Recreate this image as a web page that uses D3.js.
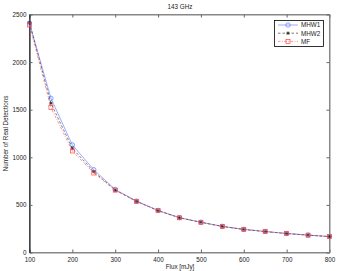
<!DOCTYPE html>
<html>
<head>
<meta charset="utf-8">
<script src="https://cdn.jsdelivr.net/npm/d3@7"></script>
<style>
  body { margin: 0; background: #fff; }
  svg { display: block; font-family: "Liberation Sans", Arial, sans-serif; }
</style>
</head>
<body>
<svg id="chart"></svg>
<script>
var flux = [100, 150, 200, 250, 300, 350, 400, 450, 500, 550, 600, 650, 700, 750, 800];
var mhw1 = [2410, 1620, 1130, 870, 662, 540, 442, 366, 318, 275, 243, 221, 200, 183, 168];
var mhw2 = [2415, 1568, 1095, 850, 655, 536, 440, 365, 317, 274, 242, 220, 199, 182, 167];
var mf = [2390, 1522, 1066, 835, 655, 536, 440, 365, 317, 274, 242, 220, 199, 182, 167];
var xTicks = [100, 200, 300, 400, 500, 600, 700, 800];
var yTicks = [0, 500, 1000, 1500, 2000, 2500];

var width = 338;
var height = 271;
var plotLeft = 29.5, plotRight = 329.5, plotTop = 14.5, plotBottom = 252.5;

var svg = d3.select('#chart').attr('width', width).attr('height', height);

var x = d3.scaleLinear().domain([100, 800]).range([plotLeft, plotRight]);
var y = d3.scaleLinear().domain([0, 2500]).range([plotBottom, plotTop]);

// box
svg.append('rect')
  .attr('x', plotLeft).attr('y', plotTop)
  .attr('width', plotRight - plotLeft).attr('height', plotBottom - plotTop)
  .attr('fill', 'none').attr('stroke', '#888').attr('stroke-width', 1);

// ticks, inward
var fmt = d3.format('d');
var xAxis = svg.append('g').attr('transform', 'translate(0,' + plotBottom + ')')
  .call(d3.axisBottom(x).tickValues(xTicks).tickFormat(fmt).tickSizeInner(-3).tickSizeOuter(0).tickPadding(5));
var xAxisTop = svg.append('g').attr('transform', 'translate(0,' + plotTop + ')')
  .call(d3.axisTop(x).tickValues(xTicks).tickSizeInner(-3).tickSizeOuter(0).tickFormat(''));
var yAxis = svg.append('g').attr('transform', 'translate(' + plotLeft + ',0)')
  .call(d3.axisLeft(y).tickValues(yTicks).tickFormat(fmt).tickSizeInner(-3).tickSizeOuter(0).tickPadding(3));
var yAxisRight = svg.append('g').attr('transform', 'translate(' + plotRight + ',0)')
  .call(d3.axisRight(y).tickValues(yTicks).tickSizeInner(-3).tickSizeOuter(0).tickFormat(''));

[xAxis, xAxisTop, yAxis, yAxisRight].forEach(function (a) {
  a.select('.domain').attr('stroke', '#888');
  a.selectAll('.tick line').attr('stroke', '#666');
  a.selectAll('text').attr('font-size', 6.3).attr('fill', '#222')
    .attr('font-family', '"Liberation Sans", Arial, sans-serif');
});
yAxis.select('.domain').attr('stroke', '#000');

// series
var series = [
  {name: 'MHW1', values: mhw1, color: '#5577ff', dash: null, marker: 'circle'},
  {name: 'MHW2', values: mhw2, color: '#222', dash: '2.5,2', marker: 'star'},
  {name: 'MF', values: mf, color: '#ff4444', dash: '2.5,1.5,0.8,1.5', marker: 'square'}
];

var line = d3.line()
  .x(function (d) { return x(d[0]); })
  .y(function (d) { return y(d[1]); });

function drawMarker(g, type, color) {
  if (type === 'circle') {
    g.append('circle').attr('r', 2.2).attr('fill', 'none').attr('stroke', color).attr('stroke-width', 0.7);
  } else if (type === 'square') {
    g.append('rect').attr('x', -2).attr('y', -2).attr('width', 4).attr('height', 4)
      .attr('fill', 'none').attr('stroke', color).attr('stroke-width', 0.7);
  } else {
    g.append('path').attr('d', 'M-1.8,0H1.8M0,-1.8V1.8M-1.3,-1.3L1.3,1.3M-1.3,1.3L1.3,-1.3')
      .attr('stroke', color).attr('stroke-width', 0.7);
  }
}

series.forEach(function (s) {
  var pts = flux.map(function (f, i) { return [f, s.values[i]]; });
  svg.append('path')
    .attr('d', line(pts))
    .attr('fill', 'none')
    .attr('stroke', s.color)
    .attr('stroke-width', 0.6)
    .attr('stroke-dasharray', s.dash);
  pts.forEach(function (p) {
    var g = svg.append('g').attr('transform', 'translate(' + x(p[0]) + ',' + y(p[1]) + ')');
    drawMarker(g, s.marker, s.color);
  });
});

// legend
var lg = svg.append('g');
lg.append('rect').attr('x', 274.5).attr('y', 20.5).attr('width', 49).attr('height', 26)
  .attr('fill', '#fff').attr('stroke', '#000').attr('stroke-width', 0.8);
series.forEach(function (s, i) {
  var ly = 25 + i * 8.2;
  lg.append('line').attr('x1', 278).attr('x2', 298).attr('y1', ly).attr('y2', ly)
    .attr('stroke', s.color).attr('stroke-width', 0.6).attr('stroke-dasharray', s.dash);
  var g = lg.append('g').attr('transform', 'translate(288,' + ly + ')');
  drawMarker(g, s.marker, s.color);
  lg.append('text').attr('x', 301).attr('y', ly + 2.3).attr('font-size', 6.3).attr('fill', '#222')
    .text(s.name);
});

// titles
svg.append('text').attr('x', 180).attr('y', 9).attr('text-anchor', 'middle')
  .attr('font-size', 6.3).attr('fill', '#222').text('143 GHz');
svg.append('text').attr('x', 180).attr('y', 269).attr('text-anchor', 'middle')
  .attr('font-size', 6.3).attr('fill', '#222').text('Flux [mJy]');
svg.append('text').attr('transform', 'translate(8,' + ((plotTop + plotBottom) / 2) + ') rotate(-90)')
  .attr('text-anchor', 'middle').attr('font-size', 6.3).attr('fill', '#222')
  .text('Number of Real Detections');
</script>
</body>
</html>
